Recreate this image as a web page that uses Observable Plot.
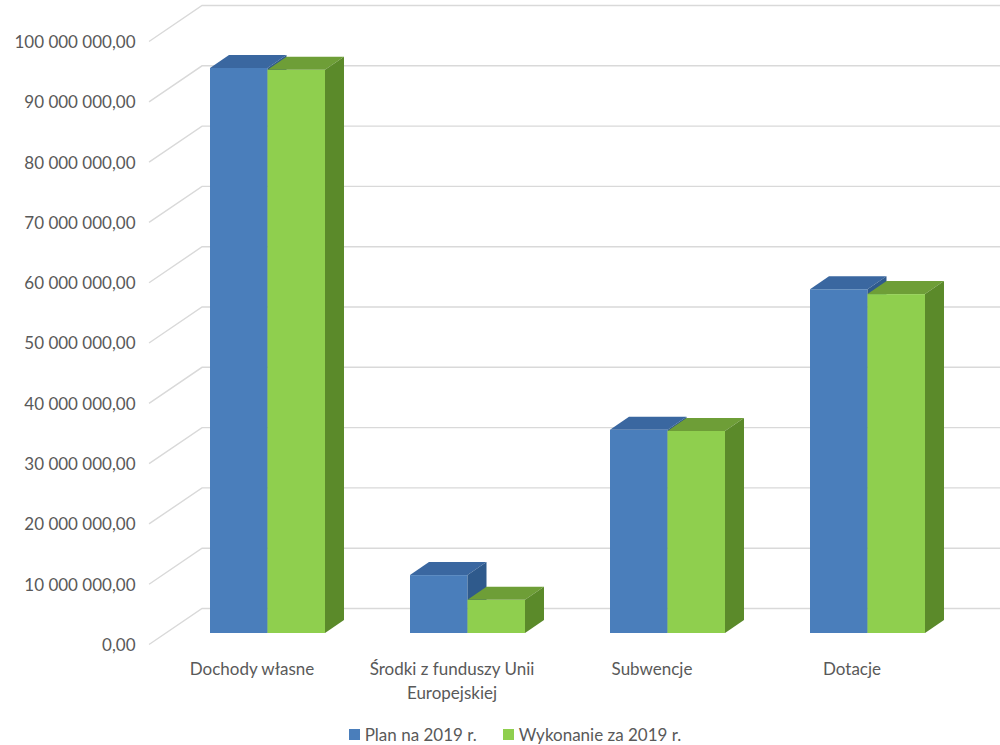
<!DOCTYPE html>
<html><head><meta charset="utf-8">
<script src="https://cdn.jsdelivr.net/npm/d3@7"></script>
<script src="https://cdn.jsdelivr.net/npm/@observablehq/plot@0.6"></script>
<style>
body{margin:0;background:#fff;font-family:Lato,sans-serif;}
#legend{height:30px;margin-top:14px;padding-left:30px;display:flex;justify-content:center;align-items:center;font-size:17px;color:#595959;}
#legend .item{display:flex;align-items:center;margin:0 13px;}
#legend .sw{width:11px;height:11px;margin-right:5px;}
</style>
</head><body>
<div id="chart"></div>
<div id="legend"></div>
<script>
// ---- data ----
const categories = ["Dochody własne", "Środki z funduszy Unii Europejskiej", "Subwencje", "Dotacje"];
const categoryLabels = ["Dochody własne", "Środki z funduszy Unii\nEuropejskiej", "Subwencje", "Dotacje"];
const series = ["Plan na 2019 r.", "Wykonanie za 2019 r."];
const plan = [93.7e6, 9.6e6, 33.7e6, 57.0e6];
const wykonanie = [93.4e6, 5.5e6, 33.5e6, 56.2e6];
const yTicks = [0, 10e6, 20e6, 30e6, 40e6, 50e6, 60e6, 70e6, 80e6, 90e6, 100e6];

// ---- styles ----
const frontColors = ["#4a7ebb", "#8fcf4e"];
const topColors = ["#3a67a0", "#6e9e37"];
const sideColors = ["#2f5a8c", "#5b8a2a"];
const gridColor = "#d9d9d9";
const textColor = "#595959";
// oblique 3D depth (pixels)
const WALL_DX = 53, WALL_DY = -36;   // full floor depth
const FRONT_FRAC = 0.32;             // bars start at this fraction of the depth
const BAR_DX = 19, BAR_DY = -13;     // bar depth

const rows = [];
categories.forEach((c, i) => {
  rows.push({category: c, series: series[0], si: 0, value: plan[i]});
  rows.push({category: c, series: series[1], si: 1, value: wykonanie[i]});
});

const fmt = d => d3.format(",.2f")(d).replace(/,/g, " ").replace(".", ",");

function grid3d(index, scales, values, dims) {
  const {x, y} = scales;
  const g = d3.create("svg:g").attr("stroke", gridColor).attr("stroke-width", 1.4).attr("fill", "none");
  const xl = x.range()[0] - FRONT_FRAC * WALL_DX;
  const offY = -FRONT_FRAC * WALL_DY;
  for (const v of yTicks) {
    const yf = y(v) + offY;
    const yb = yf + WALL_DY;
    g.append("path").attr("d", `M${xl},${yf}L${xl + WALL_DX},${yb}L${dims.width},${yb}`);
  }
  return g.node();
}

function bars3d(index, scales) {
  const {x, y} = scales;
  const g = d3.create("svg:g");
  const bw = x.bandwidth() / 2;
  for (const d of rows) {
    const x0 = x(d.category) + d.si * bw, x1 = x0 + bw;
    const yt = y(d.value), yb = y(0);
    g.append("rect").attr("x", x0).attr("y", yt).attr("width", bw).attr("height", yb - yt).attr("fill", frontColors[d.si]);
    g.append("path").attr("d", `M${x0},${yt}L${x0 + BAR_DX},${yt + BAR_DY}L${x1 + BAR_DX},${yt + BAR_DY}L${x1},${yt}Z`).attr("fill", topColors[d.si]);
    g.append("path").attr("d", `M${x1},${yt}L${x1 + BAR_DX},${yt + BAR_DY}L${x1 + BAR_DX},${yb + BAR_DY}L${x1},${yb}Z`).attr("fill", sideColors[d.si]);
  }
  return g.node();
}

const plot = Plot.plot({
  width: 1000,
  height: 705,
  marginLeft: 166,
  marginRight: 31,
  marginTop: 30,
  marginBottom: 72,
  style: {fontFamily: "Lato, sans-serif", color: textColor, background: "#fff"},
  x: {type: "band", domain: categories, paddingInner: 0.427, paddingOuter: 0.2135},
  y: {domain: [0, 100e6]},
  marks: [
    grid3d,
    bars3d,
    Plot.axisY(yTicks, {tickSize: 0, tickPadding: 31, dy: 12, tickFormat: fmt, fontSize: 17, fill: textColor, label: null}),
    Plot.axisX(categories, {tickSize: 0, tickPadding: 25, dx: -16, fontSize: 17, lineHeight: 1.4, fill: textColor, label: null,
      tickFormat: d => categoryLabels[categories.indexOf(d)]})
  ]
});
document.getElementById("chart").appendChild(plot);

const legend = document.getElementById("legend");
series.forEach((s, i) => {
  const it = document.createElement("div");
  it.className = "item";
  it.innerHTML = `<span class="sw" style="background:${frontColors[i]}"></span><span>${s}</span>`;
  legend.appendChild(it);
});
</script>
</body></html>
